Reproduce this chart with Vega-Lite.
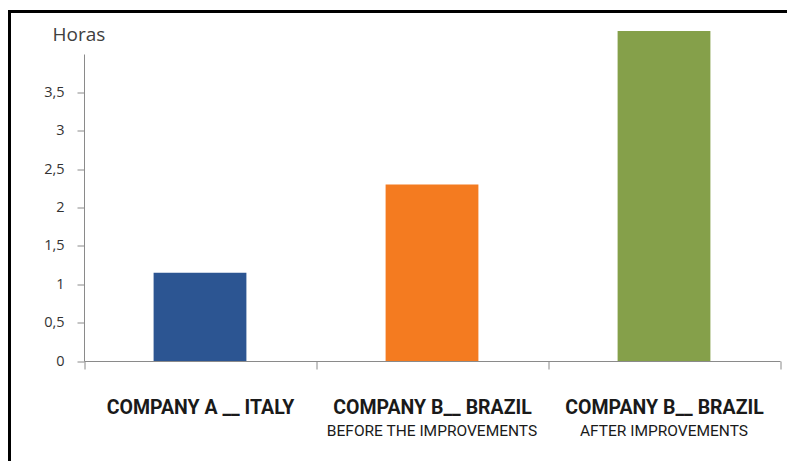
{
  "$schema": "https://vega.github.io/schema/vega-lite/v6.json",
  "width": 777.5,
  "height": 449.5,
  "autosize": {"type": "none"},
  "padding": {"left": 9.5, "top": 11.5, "right": 0, "bottom": 0},
  "background": "white",
  "config": {
    "view": {"stroke": "black", "strokeWidth": 3, "strokeDash": [777.5, 1227, 449.5]},
    "axis": {"grid": false, "domainColor": "#8a8a8a", "tickColor": "#8a8a8a", "domainWidth": 1}
  },
  "data": {
    "values": [
      {"label": "COMPANY A __ ITALY", "hours": 1.15},
      {"label": "COMPANY B__ BRAZIL|BEFORE THE IMPROVEMENTS", "hours": 2.3},
      {"label": "COMPANY B__ BRAZIL|AFTER IMPROVEMENTS", "hours": 4.3}
    ]
  },
  "layer": [
    {
      "mark": {"type": "bar", "width": {"band": 0.4}},
      "encoding": {
        "x": {
          "field": "label",
          "type": "nominal",
          "sort": null,
          "scale": {"range": [74.5, 770.5], "paddingInner": 0, "paddingOuter": 0},
          "axis": {
            "orient": "bottom",
            "title": null,
            "offset": -100,
            "tickSize": 8,
            "tickBand": "extent",
            "labelAngle": 0,
            "labelBaseline": "top",
            "labelPadding": 29,
            "labelFont": "Roboto",
            "labelFontWeight": "bold",
            "labelFontSize": 19.5,
            "labelColor": "#1a1a1a",
            "labelLimit": 400,
            "labelExpr": "split(datum.label, '|')[0]"
          }
        },
        "y": {
          "field": "hours",
          "type": "quantitative",
          "scale": {"domain": [0, 4], "nice": false, "range": [349.5, 42.5]},
          "axis": {
            "offset": -74.5,
            "values": [0, 0.5, 1, 1.5, 2, 2.5, 3, 3.5, 4],
            "labelExpr": "datum.value == 4 ? '' : replace(format(datum.value, '.1~f'), '.', ',')",
            "tickSize": 7,
            "tickOpacity": {"condition": {"test": "datum.value == 4", "value": 0}, "value": 1},
            "labelPadding": 13,
            "labelFont": "Open Sans",
            "labelFontSize": 14.5,
            "labelColor": "#333333",
            "title": "Horas",
            "titleFont": "Open Sans",
            "titleFontSize": 19,
            "titleFontWeight": "normal",
            "titleColor": "#404040",
            "titleAngle": 0,
            "titleAlign": "left",
            "titleBaseline": "middle",
            "titleX": -32,
            "titleY": 22.5
          }
        },
        "color": {
          "field": "label",
          "type": "nominal",
          "sort": null,
          "scale": {"range": ["#2c5592", "#f47b20", "#85a04a"]},
          "legend": null
        }
      }
    },
    {
      "mark": {"type": "text", "opacity": 0},
      "encoding": {
        "x": {
          "field": "label",
          "type": "nominal",
          "sort": null,
          "axis": {
            "orient": "bottom",
            "title": null,
            "offset": -100,
            "domain": false,
            "ticks": false,
            "tickSize": 0,
            "labelAngle": 0,
            "labelBaseline": "top",
            "labelPadding": 62,
            "labelFont": "Roboto",
            "labelFontSize": 15.5,
            "labelColor": "#1a1a1a",
            "labelLimit": 400,
            "labelExpr": "indexof(datum.label, '|') >= 0 ? split(datum.label, '|')[1] : ''"
          }
        },
        "text": {"value": ""}
      }
    }
  ],
  "resolve": {"axis": {"x": "independent"}}
}
